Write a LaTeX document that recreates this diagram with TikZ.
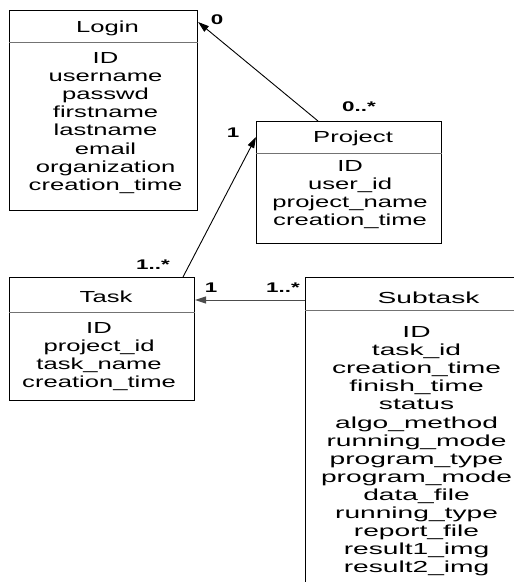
\documentclass[tikz,border=0pt]{standalone}
\usepackage{fontspec}
\setmainfont{Liberation Sans}[FakeStretch=1.6]
\newfontfamily\widefont{Liberation Sans}[FakeStretch=1.76]
\usetikzlibrary{arrows.meta}
\begin{document}
\begin{tikzpicture}[x=1pt,y=-1pt,
  box/.style={draw=black,line width=1.1pt,inner sep=0pt,anchor=north west},
  div/.style={draw=black!55,line width=0.9pt},
  ttl/.style={inner sep=0pt,anchor=base,font=\fontsize{16}{18}\selectfont},
  attrs/.style={inner sep=0pt,align=center,anchor=north,font=\fontsize{16}{18.1}\selectfont},
  lab/.style={inner sep=0pt,font=\fontsize{14}{16}\selectfont\bfseries},
  conn/.style={draw=black,line width=0.9pt,-{Triangle[length=11pt,width=7pt]}},
]
\useasboundingbox (0,0) rectangle (514,582);
\clip (0,0) rectangle (514,582);

% boxes
\node[box,minimum width=188pt,minimum height=200pt] (login) at (9,10) {};
\node[box,minimum width=185pt,minimum height=122pt] (project) at (256,121) {};
\node[box,minimum width=185pt,minimum height=123pt] (task) at (9,277) {};
\node[box,minimum width=226pt,minimum height=330pt] (subtask) at (305,277) {};

% dividers
\draw[div] ([yshift=-32pt]login.north west) -- ([yshift=-32pt]login.north east);
\draw[div] ([yshift=-32pt]project.north west) -- ([yshift=-32pt]project.north east);
\draw[div] ([yshift=-35pt]task.north west) -- ([yshift=-35pt]task.north east);
\draw[div] ([yshift=-33pt]subtask.north west) -- ([yshift=-33pt]subtask.north east);

% titles
\node[ttl] (login-t) at ([xshift=4pt,yshift=-22.5pt]login.north) {Login};
\node[ttl] (project-t) at ([xshift=4pt,yshift=-21.5pt]project.north) {Project};
\node[ttl] (task-t) at ([xshift=4pt,yshift=-25.5pt]task.north) {Task};
\node[ttl,font=\fontsize{16}{18}\widefont] (subtask-t) at ([xshift=10pt,yshift=-26.5pt]subtask.north) {Subtask};

% attributes
\node[attrs] (login-a) at ([xshift=2pt,yshift=-42.3pt]login.north) {ID\\username\\passwd\\firstname\\lastname\\email\\organization\\creation\_time};
\node[attrs] (project-a) at ([xshift=1pt,yshift=-39.3pt]project.north) {ID\\user\_id\\project\_name\\creation\_time};
\node[attrs] (task-a) at ([xshift=-3pt,yshift=-45.3pt]task.north) {ID\\project\_id\\task\_name\\creation\_time};
\node[attrs,font=\fontsize{16}{18.1}\widefont] (subtask-a) at ([xshift=-2pt,yshift=-49.3pt]subtask.north) {ID\\task\_id\\creation\_time\\finish\_time\\status\\algo\_method\\running\_mode\\program\_type\\program\_mode\\data\_file\\running\_type\\report\_file\\result1\_img\\result2\_img};

% connectors
\draw[conn] ([xshift=62pt]project.north west) -- ([yshift=-12pt]login.north east);
\draw[conn] ([xshift=174pt]task.north west) -- ([yshift=-16pt]project.north west);
\draw[conn,draw=black!70] ([yshift=-23pt]subtask.north west) -- ([yshift=-23pt]task.north east);

% multiplicities
\node[lab] (m1) at (217,20) {0};
\node[lab] (m2) at (359,107) {0..*};
\node[lab] (m3) at (233,133) {1};
\node[lab] (m4) at (153,265) {1..*};
\node[lab] (m5) at (211,288) {1};
\node[lab] (m6) at (283,288) {1..*};
\end{tikzpicture}
\end{document}
